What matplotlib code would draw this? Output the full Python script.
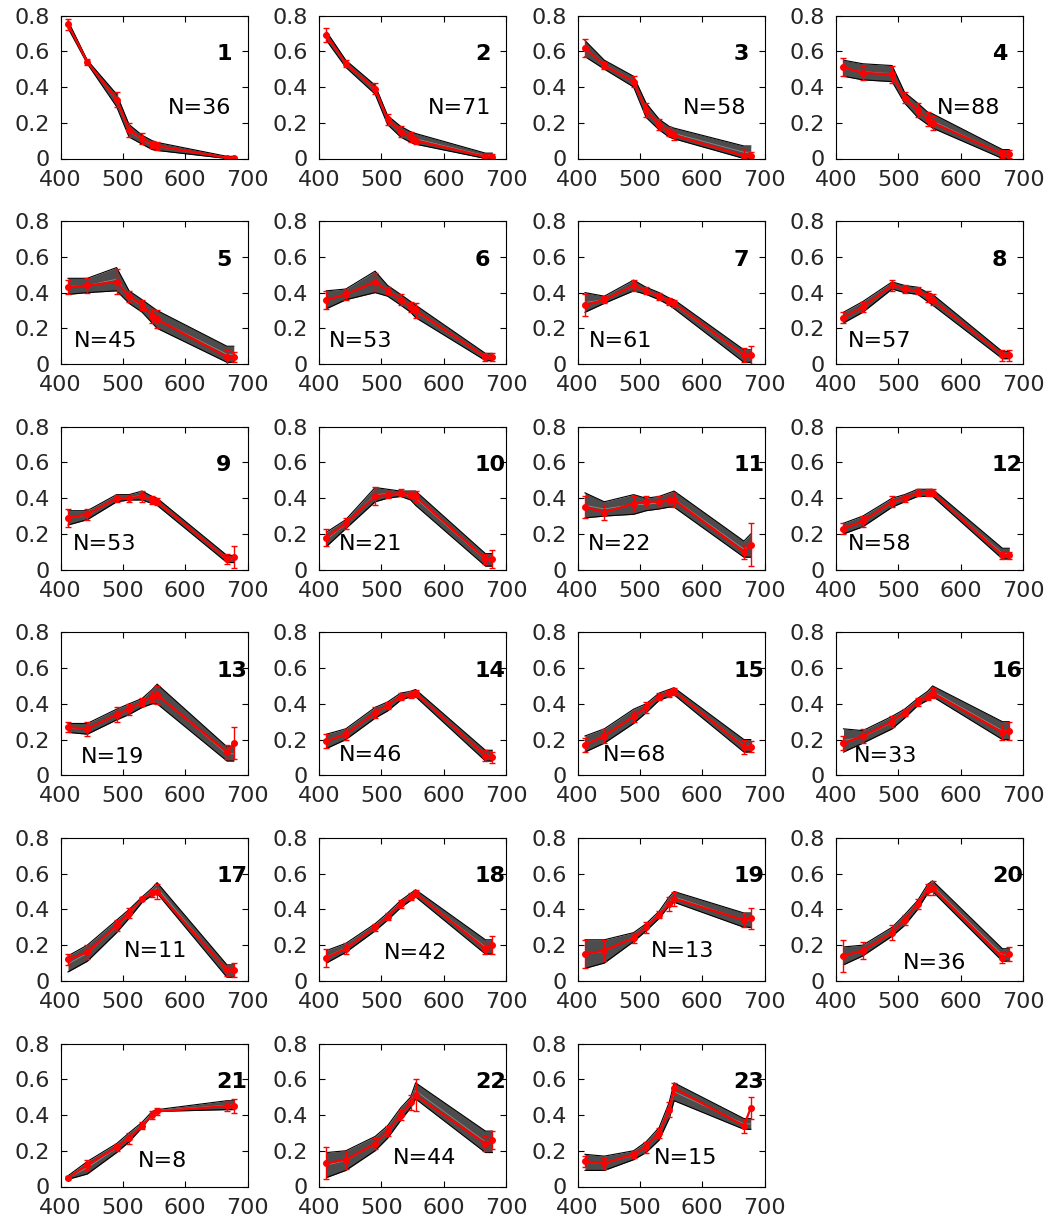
import matplotlib.pyplot as plt
import numpy as np

plt.rcParams['font.family'] = ['DejaVu Sans']

# band centres (nm)
wl = [412, 443, 490, 510, 531, 547, 555, 667, 678]

# number of spectra in each class
n_counts = [36, 71, 58, 88, 45, 53, 61, 57, 53, 21, 22, 58,
            19, 46, 68, 33, 11, 42, 13, 36, 8, 44, 15]

# class mean spectra
means = [
    [0.75, 0.54, 0.33, 0.16, 0.11, 0.08, 0.07, 0.005, 0.005],
    [0.69, 0.53, 0.39, 0.22, 0.15, 0.12, 0.10, 0.01, 0.01],
    [0.62, 0.52, 0.43, 0.27, 0.19, 0.15, 0.13, 0.015, 0.015],
    [0.51, 0.48, 0.47, 0.34, 0.27, 0.22, 0.20, 0.025, 0.025],
    [0.43, 0.44, 0.46, 0.38, 0.33, 0.27, 0.25, 0.04, 0.04],
    [0.36, 0.39, 0.46, 0.41, 0.36, 0.32, 0.30, 0.04, 0.04],
    [0.33, 0.36, 0.44, 0.41, 0.38, 0.35, 0.34, 0.05, 0.05],
    [0.26, 0.32, 0.44, 0.42, 0.41, 0.38, 0.36, 0.05, 0.05],
    [0.29, 0.31, 0.40, 0.40, 0.41, 0.39, 0.38, 0.06, 0.07],
    [0.18, 0.26, 0.41, 0.42, 0.43, 0.42, 0.41, 0.06, 0.06],
    [0.35, 0.32, 0.37, 0.38, 0.38, 0.39, 0.39, 0.10, 0.14],
    [0.23, 0.27, 0.38, 0.40, 0.43, 0.43, 0.43, 0.08, 0.08],
    [0.27, 0.26, 0.34, 0.37, 0.41, 0.44, 0.45, 0.13, 0.18],
    [0.19, 0.23, 0.35, 0.39, 0.44, 0.45, 0.46, 0.11, 0.10],
    [0.17, 0.22, 0.33, 0.38, 0.44, 0.46, 0.47, 0.16, 0.16],
    [0.18, 0.22, 0.30, 0.35, 0.41, 0.44, 0.46, 0.24, 0.25],
    [0.12, 0.16, 0.31, 0.38, 0.46, 0.49, 0.50, 0.06, 0.06],
    [0.13, 0.18, 0.30, 0.36, 0.43, 0.47, 0.49, 0.18, 0.20],
    [0.15, 0.17, 0.24, 0.30, 0.37, 0.43, 0.46, 0.34, 0.35],
    [0.14, 0.17, 0.27, 0.34, 0.43, 0.51, 0.52, 0.13, 0.15],
    [0.05, 0.12, 0.22, 0.27, 0.34, 0.40, 0.42, 0.45, 0.45],
    [0.13, 0.15, 0.24, 0.31, 0.40, 0.47, 0.51, 0.24, 0.26],
    [0.14, 0.13, 0.18, 0.22, 0.30, 0.43, 0.55, 0.34, 0.44],
]

# standard deviations (error bars)
errs = [
    [0.03, 0.015, 0.04, 0.04, 0.03, 0.02, 0.02, 0.005, 0.005],
    [0.04, 0.02, 0.03, 0.03, 0.03, 0.03, 0.02, 0.015, 0.015],
    [0.05, 0.02, 0.03, 0.04, 0.03, 0.025, 0.025, 0.04, 0.02],
    [0.05, 0.04, 0.05, 0.03, 0.04, 0.04, 0.04, 0.02, 0.02],
    [0.04, 0.04, 0.07, 0.03, 0.03, 0.04, 0.05, 0.04, 0.03],
    [0.05, 0.03, 0.05, 0.02, 0.03, 0.03, 0.04, 0.02, 0.02],
    [0.06, 0.02, 0.03, 0.02, 0.02, 0.02, 0.02, 0.04, 0.05],
    [0.03, 0.03, 0.03, 0.02, 0.02, 0.03, 0.03, 0.03, 0.03],
    [0.05, 0.03, 0.02, 0.02, 0.03, 0.02, 0.02, 0.03, 0.06],
    [0.05, 0.03, 0.05, 0.02, 0.02, 0.02, 0.03, 0.03, 0.05],
    [0.06, 0.04, 0.04, 0.03, 0.03, 0.03, 0.04, 0.04, 0.12],
    [0.03, 0.03, 0.03, 0.02, 0.02, 0.02, 0.02, 0.02, 0.02],
    [0.03, 0.04, 0.04, 0.03, 0.02, 0.03, 0.05, 0.04, 0.09],
    [0.04, 0.03, 0.03, 0.02, 0.02, 0.02, 0.02, 0.03, 0.03],
    [0.04, 0.04, 0.03, 0.03, 0.02, 0.02, 0.02, 0.04, 0.03],
    [0.04, 0.04, 0.03, 0.02, 0.02, 0.02, 0.03, 0.04, 0.05],
    [0.03, 0.04, 0.03, 0.03, 0.01, 0.02, 0.04, 0.03, 0.04],
    [0.05, 0.03, 0.02, 0.02, 0.02, 0.02, 0.02, 0.03, 0.05],
    [0.08, 0.06, 0.03, 0.03, 0.02, 0.04, 0.04, 0.04, 0.06],
    [0.09, 0.05, 0.04, 0.03, 0.03, 0.03, 0.04, 0.03, 0.04],
    [0.01, 0.03, 0.02, 0.03, 0.02, 0.02, 0.02, 0.03, 0.04],
    [0.09, 0.05, 0.03, 0.03, 0.03, 0.04, 0.09, 0.04, 0.05],
    [0.03, 0.03, 0.02, 0.03, 0.03, 0.04, 0.03, 0.04, 0.06],
]

# lower / upper envelope of the member spectra
lows = [
    [0.73, 0.53, 0.29, 0.12, 0.08, 0.05, 0.045, 0.0, 0.0],
    [0.66, 0.51, 0.36, 0.19, 0.12, 0.09, 0.08, 0.0, 0.0],
    [0.57, 0.50, 0.40, 0.23, 0.16, 0.12, 0.11, 0.0, 0.0],
    [0.46, 0.44, 0.43, 0.31, 0.23, 0.19, 0.17, 0.0, 0.0],
    [0.39, 0.40, 0.41, 0.34, 0.29, 0.23, 0.20, 0.01, 0.01],
    [0.31, 0.36, 0.40, 0.38, 0.33, 0.29, 0.26, 0.02, 0.02],
    [0.29, 0.34, 0.41, 0.39, 0.36, 0.33, 0.31, 0.01, 0.01],
    [0.23, 0.29, 0.42, 0.40, 0.39, 0.35, 0.33, 0.03, 0.03],
    [0.25, 0.28, 0.38, 0.39, 0.39, 0.37, 0.36, 0.04, 0.04],
    [0.13, 0.23, 0.38, 0.40, 0.41, 0.39, 0.36, 0.02, 0.02],
    [0.29, 0.30, 0.31, 0.33, 0.34, 0.35, 0.35, 0.07, 0.07],
    [0.20, 0.24, 0.35, 0.38, 0.41, 0.41, 0.41, 0.06, 0.06],
    [0.24, 0.23, 0.31, 0.34, 0.38, 0.40, 0.40, 0.08, 0.08],
    [0.15, 0.20, 0.32, 0.36, 0.42, 0.44, 0.44, 0.08, 0.08],
    [0.13, 0.18, 0.29, 0.35, 0.42, 0.44, 0.45, 0.13, 0.13],
    [0.13, 0.18, 0.26, 0.32, 0.39, 0.42, 0.44, 0.20, 0.20],
    [0.05, 0.11, 0.27, 0.35, 0.44, 0.48, 0.49, 0.02, 0.02],
    [0.10, 0.16, 0.28, 0.34, 0.41, 0.45, 0.47, 0.15, 0.15],
    [0.07, 0.10, 0.22, 0.28, 0.35, 0.42, 0.44, 0.30, 0.30],
    [0.09, 0.14, 0.25, 0.31, 0.40, 0.49, 0.50, 0.11, 0.11],
    [0.04, 0.07, 0.19, 0.25, 0.33, 0.40, 0.42, 0.43, 0.43],
    [0.05, 0.09, 0.20, 0.27, 0.37, 0.44, 0.49, 0.19, 0.19],
    [0.09, 0.09, 0.15, 0.19, 0.26, 0.38, 0.48, 0.32, 0.32],
]
highs = [
    [0.77, 0.55, 0.36, 0.19, 0.13, 0.10, 0.09, 0.012, 0.012],
    [0.71, 0.55, 0.41, 0.24, 0.18, 0.15, 0.14, 0.03, 0.03],
    [0.66, 0.55, 0.46, 0.31, 0.22, 0.18, 0.17, 0.07, 0.07],
    [0.55, 0.53, 0.52, 0.37, 0.31, 0.26, 0.25, 0.05, 0.05],
    [0.48, 0.48, 0.54, 0.41, 0.36, 0.32, 0.30, 0.10, 0.10],
    [0.41, 0.42, 0.52, 0.44, 0.39, 0.35, 0.33, 0.06, 0.06],
    [0.40, 0.38, 0.47, 0.43, 0.40, 0.37, 0.36, 0.08, 0.08],
    [0.29, 0.35, 0.46, 0.44, 0.43, 0.40, 0.39, 0.07, 0.07],
    [0.33, 0.33, 0.42, 0.42, 0.44, 0.41, 0.40, 0.08, 0.08],
    [0.21, 0.28, 0.46, 0.45, 0.44, 0.44, 0.44, 0.09, 0.09],
    [0.43, 0.38, 0.42, 0.40, 0.41, 0.43, 0.44, 0.16, 0.20],
    [0.26, 0.30, 0.40, 0.42, 0.45, 0.45, 0.45, 0.12, 0.12],
    [0.29, 0.29, 0.37, 0.40, 0.43, 0.48, 0.51, 0.16, 0.16],
    [0.23, 0.26, 0.38, 0.41, 0.46, 0.47, 0.48, 0.14, 0.14],
    [0.22, 0.26, 0.37, 0.40, 0.46, 0.48, 0.49, 0.20, 0.20],
    [0.26, 0.25, 0.33, 0.37, 0.43, 0.47, 0.50, 0.30, 0.30],
    [0.14, 0.20, 0.34, 0.40, 0.47, 0.52, 0.55, 0.09, 0.09],
    [0.17, 0.21, 0.32, 0.38, 0.45, 0.49, 0.51, 0.23, 0.23],
    [0.23, 0.23, 0.27, 0.32, 0.39, 0.47, 0.50, 0.38, 0.38],
    [0.19, 0.20, 0.30, 0.37, 0.45, 0.54, 0.56, 0.18, 0.18],
    [0.06, 0.14, 0.24, 0.30, 0.36, 0.42, 0.43, 0.48, 0.48],
    [0.19, 0.20, 0.28, 0.34, 0.44, 0.50, 0.58, 0.31, 0.31],
    [0.18, 0.17, 0.20, 0.25, 0.33, 0.47, 0.58, 0.38, 0.38],
]

# where the N= text sits in each panel (x in nm, y in Rrs units)
n_pos = [(623, 0.28), (626, 0.28), (620, 0.28), (613, 0.28),
         (472, 0.13), (466, 0.13), (469, 0.13), (470, 0.13),
         (470, 0.145), (482, 0.145), (467, 0.145), (470, 0.145),
         (484, 0.105), (482, 0.115), (491, 0.115), (480, 0.11),
         (552, 0.165), (555, 0.157), (568, 0.165), (558, 0.10),
         (563, 0.14), (569, 0.157), (574, 0.16)]

W, H = 1057, 1226
fig = plt.figure(figsize=(W / 100, H / 100), dpi=100)

for k in range(len(means)):
    r, c = divmod(k, 4)
    left = (60.5 + 258.5 * c) / W
    bottom = 1 - (158.5 + 205.6 * r) / H
    ax = fig.add_axes([left, bottom, 187 / W, 143 / H])

    # spread of the member spectra
    lo = np.array(lows[k])
    hi = np.array(highs[k])
    ax.fill_between(wl, lo, hi, color='0.3', lw=0)
    ax.plot(wl, lo, color='k', lw=0.8)
    ax.plot(wl, hi, color='k', lw=0.8)
    ax.plot(wl, (lo + hi) / 2, color='0.55', lw=0.6)

    # class mean with std
    ax.errorbar(wl, means[k], yerr=errs[k], color='red', lw=1.6,
                marker='o', ms=4, elinewidth=1, capsize=2)

    ax.set_xlim(400, 700)
    ax.set_ylim(0, 0.8)
    ax.set_xticks([400, 500, 600, 700])
    ax.set_yticks([0, 0.2, 0.4, 0.6, 0.8])
    ax.set_yticklabels(['0', '0.2', '0.4', '0.6', '0.8'])
    ax.tick_params(direction='in', top=True, right=True, length=4,
                   width=0.8, labelsize=16, labelcolor='#262626')
    ax.tick_params(axis='x', pad=8)
    ax.tick_params(axis='y', pad=8)
    for s in ax.spines.values():
        s.set_linewidth(0.8)

    ax.text(650, 0.585, str(k + 1), fontsize=16, fontweight='bold',
            ha='left', va='center')
    nx, ny = n_pos[k]
    ax.text(nx, ny, 'N=%d' % n_counts[k], fontsize=16, ha='center', va='center')

plt.savefig('out.png', dpi=100)
